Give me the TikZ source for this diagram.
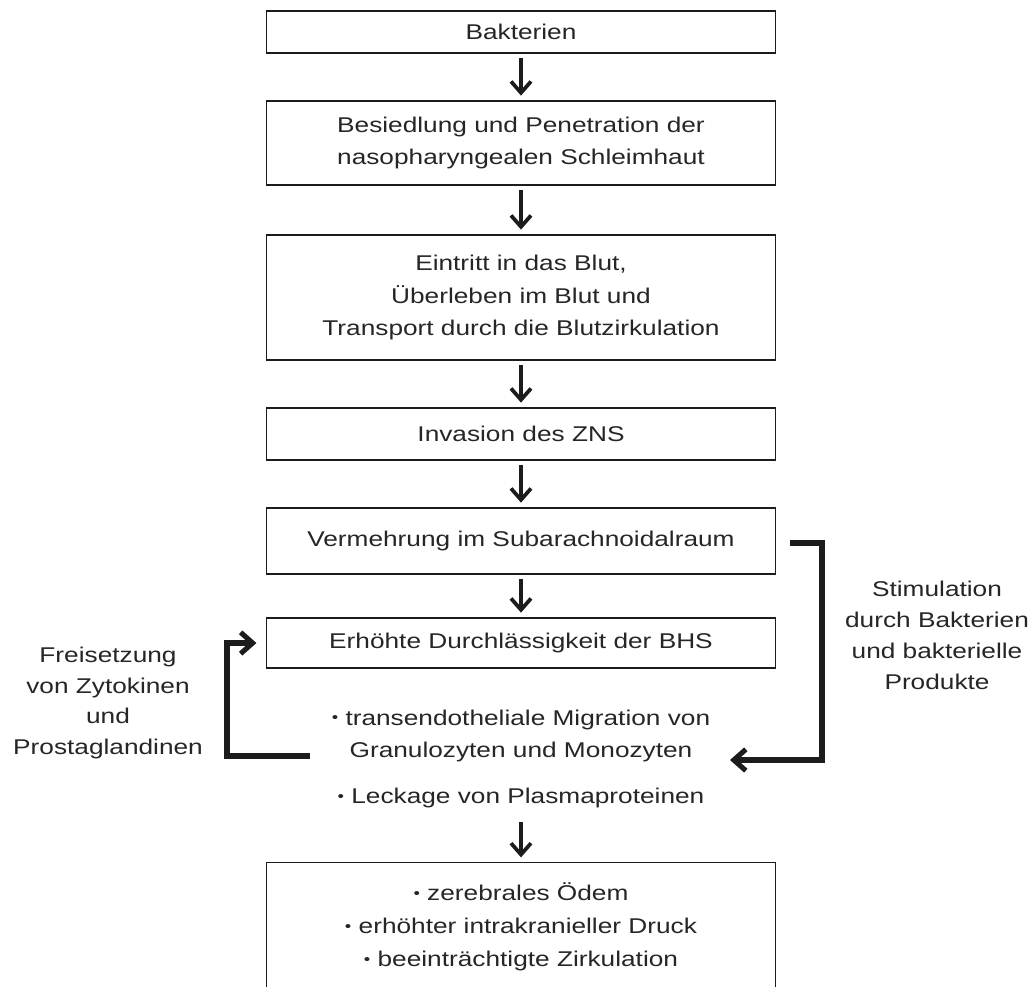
\documentclass[tikz,border=0pt]{standalone}
\usepackage{fontspec}
\usepackage{graphicx}
\setmainfont{Liberation Sans}[FakeStretch=1.23]
\usetikzlibrary{arrows.meta}
\definecolor{txt}{HTML}{262626}
\definecolor{ln}{HTML}{1C1C1C}
\newcommand\bul{\raisebox{0.1em}{\scalebox{0.7}{•}}}
\begin{document}
\begin{tikzpicture}[x=0.75pt,y=-0.75pt,
  box/.style={draw=ln, line width=1.1pt, minimum width=381.75pt, inner sep=0pt,
    align=center, text=txt, font=\fontsize{16}{24.6}\selectfont},
  plain/.style={inner sep=0pt, align=center, text=txt, font=\fontsize{16}{24.6}\selectfont},
  side/.style={inner sep=0pt, align=center, text=txt, font=\fontsize{16}{23.2}\selectfont},
  varrow/.style={draw=ln, line width=2.8pt, -{Straight Barb[length=8.5pt,width=15pt]}},
  loop/.style={draw=ln, line width=3.8pt, -{Straight Barb[length=9pt,width=16pt]}}]
\clip (0,0) rectangle (1034,986);
\fill[white] (0,0) rectangle (1034,986);
\node[box, minimum height=31.5pt] (b1) at (521,32) {Bakterien};
\node[box, minimum height=63pt] (b2) at (521,143) {Besiedlung und Penetration der\\nasopharyngealen Schleimhaut};
\node[box, minimum height=93.75pt] (b3) at (521,297.5) {Eintritt in das Blut,\\Überleben im Blut und\\Transport durch die Blutzirkulation};
\node[box, minimum height=39pt] (b4) at (521,434) {Invasion des ZNS};
\node[box, minimum height=49.5pt] (b5) at (521,541) {Vermehrung im Subarachnoidalraum};
\node[box, minimum height=37.5pt] (b6) at (521,643) {Erhöhte Durchlässigkeit der BHS};
\node[plain] (mig) at (521,736) {\bul\ transendotheliale Migration von\\Granulozyten und Monozyten};
\node[plain] (leck) at (521,798) {\bul\ Leckage von Plasmaproteinen};
\node[box, minimum height=96pt, anchor=north] (b7) at (521,862) {\bul\ zerebrales Ödem\\\bul\ erhöhter intrakranieller Druck\\\bul\ beeinträchtigte Zirkulation};
\node[side] (frei) at (108,703) {Freisetzung\\von Zytokinen\\und\\Prostaglandinen};
\node[side] (stim) at (937,635) {Stimulation\\durch Bakterien\\und bakterielle\\Produkte};
% vertical arrows
\draw[varrow] ([yshift=-3pt]b1.south) -- ([yshift=3.5pt]b2.north);
\draw[varrow] ([yshift=-3pt]b2.south) -- ([yshift=3.5pt]b3.north);
\draw[varrow] ([yshift=-3pt]b3.south) -- ([yshift=3.5pt]b4.north);
\draw[varrow] ([yshift=-3pt]b4.south) -- ([yshift=3.5pt]b5.north);
\draw[varrow] ([yshift=-3pt]b5.south) -- ([yshift=3.5pt]b6.north);
\draw[varrow] ([yshift=-10pt]leck.south) -- ([yshift=3.5pt]b7.north);
% loops
\coordinate (lstart) at (310,756);
\coordinate (rend) at (730,760);
\draw[loop] (lstart) -- (227,756) |- ([xshift=-7pt]b6.west);
\draw[loop] ([xshift=10pt]b5.east |- 0,543) -- (822,543) |- (rend);
\end{tikzpicture}
\end{document}
